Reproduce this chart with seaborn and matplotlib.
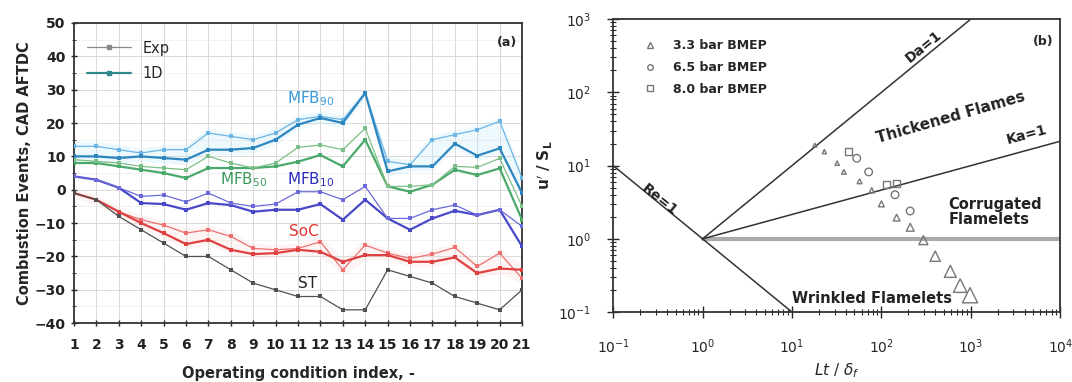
import numpy as np
import pandas as pd
import matplotlib
matplotlib.use("Agg")
import matplotlib.pyplot as plt
from matplotlib.lines import Line2D
import seaborn as sns

# ---------------- data: panel (a) ----------------
idx = list(range(1, 22))
mfb90_exp = [13, 13, 12, 11, 12, 12, 17, 16, 15, 17, 21, 22, 21, 29, 8.5, 7.5, 15, 16.5, 18, 20.5, 3.5]
mfb90_1d = [10, 10, 9.5, 10, 9.5, 9, 12, 12, 12.5, 15, 19.5, 21.5, 20, 29, 5.5, 7, 7, 13.8, 10.2, 12.4, -1]
mfb50_1d = [9, 8.5, 8, 7, 6.5, 6, 10, 8, 6.5, 8, 12.7, 13.4, 12, 18.4, 1, 1, 1.5, 7, 6.7, 9.4, -5]
mfb50_exp = [8, 8, 7, 6, 5, 3.5, 6.5, 6.5, 6.5, 7, 8.4, 10.4, 7, 15, 1, -0.6, 1.5, 6, 4.4, 6.4, -9]
mfb10_1d = [4, 3, 0.6, -2, -1.6, -3.6, -1, -4, -5, -4.3, -0.6, -0.6, -3, 1, -8.6, -8.6, -6, -4.6, -7.6, -6, -11]
mfb10_exp = [4, 3, 0.6, -4, -4.3, -6, -4, -4.6, -6.6, -6, -6, -4.3, -9, -3, -8.6, -12, -8.6, -6.3, -7.6, -6, -17]
soc_exp = [-1, -3, -6.6, -9, -10.6, -13, -12, -14, -17.6, -18, -17.6, -15.6, -24, -16.6, -19, -20.6, -19.3, -17.3, -23, -19, -26.6]
soc_1d = [-1, -3, -6.6, -10, -13, -16.3, -15, -18, -19.3, -19, -18, -18.6, -21.6, -19.6, -19.6, -21.6, -21.6, -20.3, -25, -23.6, -24]
st_exp = [-1, -3, -8, -12, -16, -20, -20, -24, -28, -30, -32, -32, -36, -36, -24, -26, -28, -32, -34, -36, -30]

# ---------------- data: panel (b) ----------------
re_x, re_y = [0.1, 10], [10, 0.1]
da_x, da_y = [1, 1000], [1, 1000]
ka_x, ka_y = [1, 1e4], [1, 21.5]
cf_x, cf_y = [1, 1e4], [1, 1]

tri_x = [18, 23, 32, 38, 57, 78, 100, 148, 210, 295, 400, 590, 760, 980]
tri_y = [19, 15.5, 10.8, 8.2, 6.1, 4.6, 3.0, 1.95, 1.44, 0.96, 0.58, 0.36, 0.23, 0.17]
tri_s = [8, 9, 10, 11, 12, 14, 18, 24, 32, 42, 55, 75, 95, 120]
cir_x = [53, 72, 142, 210]
cir_y = [12.6, 8.2, 4.0, 2.4]
sq_x = [43, 115, 148]
sq_y = [15.5, 5.6, 5.7]

# ---------------- figure ----------------
sns.set_style("ticks")
plt.rcParams["font.family"] = ["DejaVu Sans"]

fig = plt.figure(figsize=(10.72, 3.82), dpi=100)
ax1 = fig.add_axes([0.069, 0.154, 0.418, 0.786])
ax2 = fig.add_axes([0.572, 0.183, 0.417, 0.767])

series = [
    (mfb90_exp, "#6ab4e6", 0.9, 2.5),
    (mfb90_1d, "#2e86bf", 1.6, 3),
    (mfb50_exp, "#4aa86a", 1.6, 3),
    (mfb50_1d, "#7cbf86", 0.9, 2.5),
    (mfb10_exp, "#4848c8", 1.6, 3),
    (mfb10_1d, "#6a6ad8", 0.9, 2.5),
    (soc_exp, "#ee7070", 0.9, 2.5),
    (soc_1d, "#e04040", 1.6, 3),
    (st_exp, "#505050", 0.9, 3),
]
glows = [(mfb90_exp, mfb90_1d, "#bfe8f8"), (soc_exp, soc_1d, "#fbd6d6")]
for a, b, c in glows:
    ax1.fill_between(idx, np.minimum(a, b) - 1.5, np.maximum(a, b) + 1.5, color=c, alpha=0.25, lw=0, zorder=1)

for vals, col, lw, ms in series:
    sns.lineplot(x=idx, y=vals, ax=ax1, color=col, lw=lw, marker="s", markersize=ms,
                 markeredgewidth=0, zorder=3)

ax1.set_xlim(1, 21)
ax1.set_ylim(-40, 50)
ax1.set_xticks(idx)
ax1.set_yticks(range(-40, 51, 10))
ax1.set_yticks(range(-35, 50, 10), minor=True)
ax1.grid(True, which="major", color="#d8d8d8", lw=0.7)
ax1.grid(True, which="minor", axis="y", color="#ececec", lw=0.5)
ax1.tick_params(axis="both", which="major", direction="inout", length=5, labelsize=10, width=1)
ax1.tick_params(axis="x", which="major", pad=8)
ax1.tick_params(axis="y", which="minor", direction="inout", length=3)
for lab in ax1.get_xticklabels() + ax1.get_yticklabels():
    lab.set_fontweight("bold")
    lab.set_color("#222222")
for sp in ax1.spines.values():
    sp.set_linewidth(1.3)
    sp.set_color("#333333")
ax1.set_xlabel("Operating condition index, -", fontsize=10.5, fontweight="bold", labelpad=10)
ax1.set_ylabel("Combustion Events, CAD AFTDC", fontsize=10.5, fontweight="bold", labelpad=2)

ax1.text(10.5, 26, r"MFB$_{90}$", color="#3a9ad9", fontsize=11)
ax1.text(7.5, 1.5, r"MFB$_{50}$", color="#3c9a5c", fontsize=11)
ax1.text(10.5, 1.5, r"MFB$_{10}$", color="#2c2cc0", fontsize=11)
ax1.text(10.6, -14, r"SoC", color="#e03030", fontsize=11)
ax1.text(11.0, -29.5, r"ST", color="#222222", fontsize=11)
ax1.text(20.8, 44, "(a)", fontsize=9, ha="right", va="center", fontweight="bold")

handles = [Line2D([], [], color="#888888", lw=0.9, marker="s", markersize=2.5),
           Line2D([], [], color="#2e8a8a", lw=1.6, marker="s", markersize=3)]
leg = ax1.legend(handles, ["Exp", "1D"], loc="upper left", frameon=False, fontsize=10.5,
                 bbox_to_anchor=(0.0, 0.985), handlelength=3, labelspacing=0.7)

# ---------------- panel (b) ----------------
ax2.set_xscale("log")
ax2.set_yscale("log")
for xs, ys in [(re_x, re_y), (da_x, da_y), (ka_x, ka_y)]:
    sns.lineplot(x=xs, y=ys, ax=ax2, color="#333333", lw=1.1, zorder=2)
sns.lineplot(x=cf_x, y=cf_y, ax=ax2, color="#aaaaaa", lw=3, zorder=1)

sns.scatterplot(x=tri_x, y=tri_y, ax=ax2, marker="^", s=tri_s, facecolor="none",
                edgecolor="#777777", linewidth=1.0, zorder=3)
sns.scatterplot(x=cir_x, y=cir_y, ax=ax2, marker="o", s=30, facecolor="none",
                edgecolor="#777777", linewidth=1.0, zorder=3)
sns.scatterplot(x=sq_x, y=sq_y, ax=ax2, marker="s", s=25, facecolor="none",
                edgecolor="#777777", linewidth=1.0, zorder=3)

ax2.set_xlim(0.1, 1e4)
ax2.set_ylim(0.1, 1e3)
ax2.tick_params(axis="both", which="major", direction="inout", length=8, labelsize=10, width=1)
ax2.tick_params(axis="x", which="major", pad=14)
ax2.tick_params(axis="y", which="major", pad=12)
ax2.tick_params(axis="both", which="minor", direction="inout", length=4, width=0.8)
for sp in ax2.spines.values():
    sp.set_linewidth(1.3)
    sp.set_color("#333333")
ax2.set_xlabel(r"$Lt\ /\ \delta_f$", fontsize=11, fontfamily="serif", labelpad=4)
ax2.set_ylabel(r"$\mathbf{u'\ /\ S_L}$", fontsize=11, labelpad=2)

kw = dict(fontsize=10, fontweight="bold", color="#222222", ha="center", va="center")
ax2.text(300, 420, "Da=1", rotation=39, **kw)
ax2.text(4200, 26, "Ka=1", rotation=15, **kw)
ax2.text(0.33, 3.4, "Re=1", rotation=-39, **kw)
ax2.text(600, 45, "Thickened Flames", rotation=16, fontsize=11, fontweight="bold",
         color="#222222", ha="center", va="center")
ax2.text(560, 2.3, "Corrugated\nFlamelets", fontsize=10.5, fontweight="bold", color="#222222",
         ha="left", va="center", linespacing=1.0)
ax2.text(78, 0.155, "Wrinkled Flamelets", fontsize=10.5, fontweight="bold", color="#222222",
         ha="center", va="center")
ax2.text(8500, 500, "(b)", fontsize=9, fontweight="bold", ha="right", va="center")

h2 = [Line2D([], [], ls="none", marker="^", markersize=4, mfc="none", mec="#777777"),
      Line2D([], [], ls="none", marker="o", markersize=4, mfc="none", mec="#777777"),
      Line2D([], [], ls="none", marker="s", markersize=4, mfc="none", mec="#777777")]
ax2.legend(h2, ["3.3 bar BMEP", "6.5 bar BMEP", "8.0 bar BMEP"], loc="upper left",
           frameon=False, bbox_to_anchor=(0.03, 0.97), labelspacing=0.7,
           prop={"weight": "bold", "size": 9})

fig.savefig("out.png", dpi=100)
